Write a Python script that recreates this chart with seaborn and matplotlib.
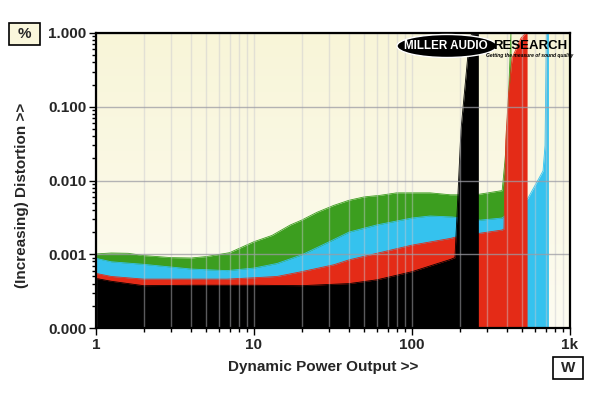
import numpy as np
import matplotlib
matplotlib.use("Agg")
import matplotlib.pyplot as plt
from matplotlib.colors import LinearSegmentedColormap
from matplotlib.patches import Ellipse, Rectangle
from matplotlib.ticker import FixedLocator, FixedFormatter, NullFormatter
import seaborn as sns

# --- Data (power in W, distortion in %) ---
power_green = [1, 1.25, 1.6, 2, 3, 4, 5, 7, 10, 13, 17, 20, 25, 32, 40, 50, 63, 80,
               100, 130, 175, 200, 265, 372, 388, 394, 409, 417, 423]
thd_green = [0.00101, 0.00104, 0.00103, 0.00096, 0.0009, 0.00089, 0.00093, 0.00105,
             0.00148, 0.0018, 0.0025, 0.0029, 0.0037, 0.0046, 0.0054, 0.0060, 0.0063,
             0.0068, 0.0068, 0.0068, 0.0064, 0.0064, 0.0065, 0.0073, 0.019, 0.03,
             0.158, 0.46, 1.0]

power_cyan = [1, 1.25, 2, 3, 4, 6.75, 10, 14, 20, 30, 40, 60, 100, 130, 180, 270,
              372, 540, 675, 695, 708, 730]
thd_cyan = [0.00088, 0.00079, 0.00073, 0.00067, 0.00063, 0.0006, 0.00065, 0.00075,
            0.00098, 0.00148, 0.002, 0.0025, 0.0031, 0.0033, 0.0032, 0.0029, 0.0031,
            0.0057, 0.0135, 0.03, 1.0, 1.0]

power_red = [1, 1.25, 2, 4, 6.75, 10, 14, 20, 32, 40, 60, 100, 175, 187, 266, 372,
             382, 392, 409, 430, 490, 525, 535]
thd_red = [0.00055, 0.0005, 0.00046, 0.00046, 0.00046, 0.00048, 0.0005, 0.00058,
           0.00072, 0.00084, 0.00103, 0.00133, 0.00164, 0.0017, 0.00192, 0.00213,
           0.0022, 0.035, 0.158, 0.46, 0.855, 1.0, 1.0]

power_black = [1, 1.25, 2, 4, 10, 20, 40, 60, 100, 175, 187, 195, 204, 225, 232,
               240, 263]
thd_black = [0.00047, 0.00043, 0.000375, 0.00038, 0.00038, 0.000375, 0.0004, 0.00045,
             0.00058, 0.00085, 0.0009, 0.006, 0.048, 0.46, 0.855, 1.0, 1.0]

x_ticks = [1, 10, 100, 1000]
x_tick_labels = ["1", "10", "100", "1k"]
y_ticks = [0.0001, 0.001, 0.01, 0.1, 1.0]
y_tick_labels = ["0.000", "0.001", "0.010", "0.100", "1.000"]

# drawn back to front
series = [
    (power_green, thd_green, "#3c9e1f"),
    (power_cyan, thd_cyan, "#35c2ee"),
    (power_red, thd_red, "#e42b17"),
    (power_black, thd_black, "#000000"),
]

sns.set_style("white")
plt.rcParams["font.family"] = ["Liberation Sans", "DejaVu Sans"]
plt.rcParams["font.weight"] = "bold"

fig = plt.figure(figsize=(6.0, 3.93), dpi=100)
pos = [96 / 600, 1 - 328 / 393, 474 / 600, 295 / 393]

# cream gradient behind the plot
bg = fig.add_axes(pos, zorder=0)
cmap = LinearSegmentedColormap.from_list("cream", ["#fdfcf1", "#f8f5d8"])
grad = np.linspace(0, 1, 256).reshape(-1, 1)
bg.imshow(grad, cmap=cmap, aspect="auto", origin="lower", extent=[0, 1, 0, 1])
bg.axis("off")

ax = fig.add_axes(pos, zorder=1)
ax.patch.set_alpha(0)
ax.set_xscale("log")
ax.set_yscale("log")

for i, (px, py, col) in enumerate(series):
    z = 1 + i * 0.1
    ax.fill_between(px, 1e-4, py, color=col, lw=0, zorder=z)
    sns.lineplot(x=px, y=py, color=col, lw=0.6, ax=ax, estimator=None, sort=False,
                 zorder=z + 0.01)

ax.set_xlim(1, 1000)
ax.set_ylim(1e-4, 1.0)

# ticks and grid
ax.xaxis.set_major_locator(FixedLocator(x_ticks))
ax.xaxis.set_major_formatter(FixedFormatter(x_tick_labels))
minor_x = [m * 10 ** d for d in range(0, 3) for m in range(2, 10)]
ax.xaxis.set_minor_locator(FixedLocator(minor_x))
ax.xaxis.set_minor_formatter(NullFormatter())
ax.yaxis.set_major_locator(FixedLocator(y_ticks))
ax.yaxis.set_major_formatter(FixedFormatter(y_tick_labels))
minor_y = [m * 10 ** d for d in range(-4, 0) for m in range(2, 10)]
ax.yaxis.set_minor_locator(FixedLocator(minor_y))
ax.yaxis.set_minor_formatter(NullFormatter())

ax.set_axisbelow(False)
ax.grid(True, which="major", axis="y", color="#9c9ca4", lw=1, alpha=0.75)
ax.grid(True, which="both", axis="x", color="#c8c8d0", lw=1, alpha=0.45)

ax.tick_params(which="major", direction="out", length=5, width=1, color="black",
               labelsize=11, pad=2, left=True, bottom=True)
ax.tick_params(which="minor", direction="out", length=3, width=1, color="black",
               left=True, bottom=True)
for lab in ax.get_xticklabels() + ax.get_yticklabels():
    lab.set_fontweight("bold")

for sp in ax.spines.values():
    sp.set_visible(True)
    sp.set_color("black")
    sp.set_linewidth(1.6)
    sp.set_zorder(5)

ax.set_xlabel("")
ax.set_ylabel("")
fig.text(323 / 600, 1 - 367 / 393, "Dynamic Power Output >>", ha="center", va="center",
         fontsize=11, fontweight="bold")
fig.text(22 / 600, 1 - 195 / 393, "(Increasing) Distortion >>", ha="center", va="center",
         rotation=90, fontsize=11, fontweight="bold")

# unit boxes
fig.patches.append(Rectangle((9 / 600, 1 - 45 / 393), 31 / 600, 22 / 393,
                             transform=fig.transFigure, facecolor="#faf7dc",
                             edgecolor="black", lw=1.2))
fig.text(24.5 / 600, 1 - 34 / 393, "%", ha="center", va="center", fontsize=11, fontweight="bold")
fig.patches.append(Rectangle((553 / 600, 1 - 379 / 393), 30 / 600, 22 / 393,
                             transform=fig.transFigure, facecolor="white",
                             edgecolor="black", lw=1.2))
fig.text(568 / 600, 1 - 368 / 393, "W", ha="center", va="center", fontsize=11, fontweight="bold")

# logo
fig.patches.append(Ellipse((447 / 600, 1 - 46 / 393), 100 / 600, 23 / 393,
                           transform=fig.transFigure, facecolor="black", zorder=10))
fig.text(446 / 600, 1 - 46 / 393, "MILLER AUDIO", ha="center", va="center", color="white",
         fontsize=8.4, fontweight="bold", zorder=11)
fig.text(530 / 600, 1 - 46 / 393, "RESEARCH", ha="center", va="center", color="black",
         fontsize=9.5, fontweight="bold", zorder=11)
fig.text(530 / 600, 1 - 56 / 393, "Getting the measure of sound quality", ha="center",
         va="center", color="black", fontsize=3.6, fontweight="bold", style="italic", zorder=11)

fig.savefig("out.png", dpi=100)
